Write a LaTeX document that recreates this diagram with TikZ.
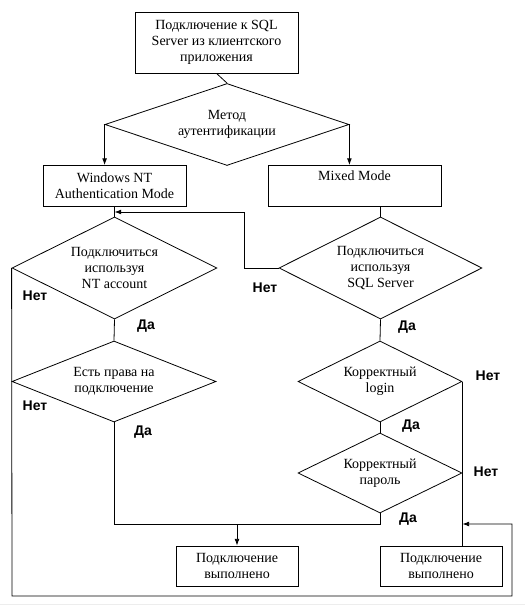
\documentclass[tikz,border=0pt]{standalone}
\usepackage{fontspec}
\setmainfont{Liberation Serif}
\newfontfamily\lblfont{Liberation Sans}
\usetikzlibrary{shapes.geometric,arrows.meta}
\tikzset{
  box/.style={draw, rectangle, inner sep=0pt, align=center,
    font=\fontsize{10.5}{12}\selectfont},
  choice/.style={draw, diamond, aspect=2, inner sep=0pt, align=center,
    font=\fontsize{10.5}{12}\selectfont},
  lbl/.style={font=\lblfont\bfseries\fontsize{10.5}{12}\selectfont},
  arr/.style={-{Latex[length=5pt,width=3.6pt]}}
}
\begin{document}
\begin{tikzpicture}[x=0.75pt, y=-0.75pt, line width=0.6pt]
            \def\xl{12};
            \def\xr{512};
            \def\ybot{596};
            \def\yjoin{524};
            \def\yback{212};

            \useasboundingbox (0,0) rectangle (525,605);
            \fill[black!7] (0,603.5) rectangle (525,605);

            \node[box, minimum width=163*0.75pt, minimum height=61*0.75pt] (start) at (216.5,42.5)
                {Подключение к SQL\\Server из  клиентского\\приложения};
            \node[choice, aspect=3, minimum width=244*0.75pt, minimum height=82*0.75pt] (method) at (227,124.5)
                {Метод\\аутентификации};

            \node[box, minimum width=143*0.75pt, minimum height=41*0.75pt] (winnt) at (114.5,186)
                {Windows NT\\Authentication Mode};
            \node[box, minimum width=173*0.75pt, minimum height=41*0.75pt] (mixed) at (354.5,186)
                {Mixed Mode\\\strut};

            \node[choice, minimum width=205*0.75pt, minimum height=102*0.75pt] (ntacc) at (114.5,268)
                {Подключиться\\используя\\NT account};
            \node[choice, minimum width=203*0.75pt, minimum height=102*0.75pt] (sqlacc) at (380.5,268)
                {Подключиться\\используя\\SQL Server};

            \node[choice, aspect=2.5, minimum width=204*0.75pt, minimum height=81*0.75pt] (rights) at (114,381.5)
                {Есть права на\\подключение};
            \node[choice, minimum width=164*0.75pt, minimum height=81*0.75pt] (login) at (380,381.5)
                {Корректный\\login};
            \node[choice, minimum width=164*0.75pt, minimum height=80*0.75pt] (passwd) at (380,473)
                {Корректный\\пароль};

            \node[box, minimum width=122*0.75pt, minimum height=40*0.75pt] (done1) at (237,566)
                {Подключение\\выполнено};
            \node[box, minimum width=122*0.75pt, minimum height=40*0.75pt] (done2) at (441,566)
                {Подключение\\выполнено};

            \coordinate (ntin) at (ntacc.north |- 0,\yback);
            \coordinate (fail) at (login.east |- 0,\yjoin);

            \draw (start.south) -- (method.north);
            \draw[arr] (method.west) -- (method.west |- winnt.north);
            \draw[arr] (method.east) -- (method.east |- mixed.north);
            \draw (winnt.south) -- (ntacc.north);
            \draw (sqlacc.north |- mixed.south) -- (sqlacc.north);

            \draw[arr] (sqlacc.west) -- ++(-34,0) |- (ntin);
            \draw (ntacc.south) -- (rights.north);
            \draw (sqlacc.south) -- (login.north);
            \draw (login.south) -- (passwd.north);

            \draw[arr] (ntacc.west) -- (\xl,\ybot) -| (\xr,\yjoin) -- (fail);
            \draw (login.east) -- (login.east |- done2.north);
            \draw (rights.south) -- (rights.south |- 0,\yjoin) -| (passwd.south);
            \draw[arr] (done1.north |- 0,\yjoin) -- (done1.north);

            \node[lbl] (no1) at (35,296) {Нет};
            \node[lbl] (no2) at (265,288) {Нет};
            \node[lbl] (no3) at (35,406) {Нет};
            \node[lbl] (no4) at (488,376) {Нет};
            \node[lbl] (no5) at (486,472) {Нет};

            \node[lbl] (yes1) at (146,326) {Да};
            \node[lbl] (yes2) at (407,327) {Да};
            \node[lbl] (yes3) at (143,432) {Да};
            \node[lbl] (yes4) at (411,426) {Да};
            \node[lbl] (yes5) at (408,519) {Да};
        \end{tikzpicture}
\end{document}
